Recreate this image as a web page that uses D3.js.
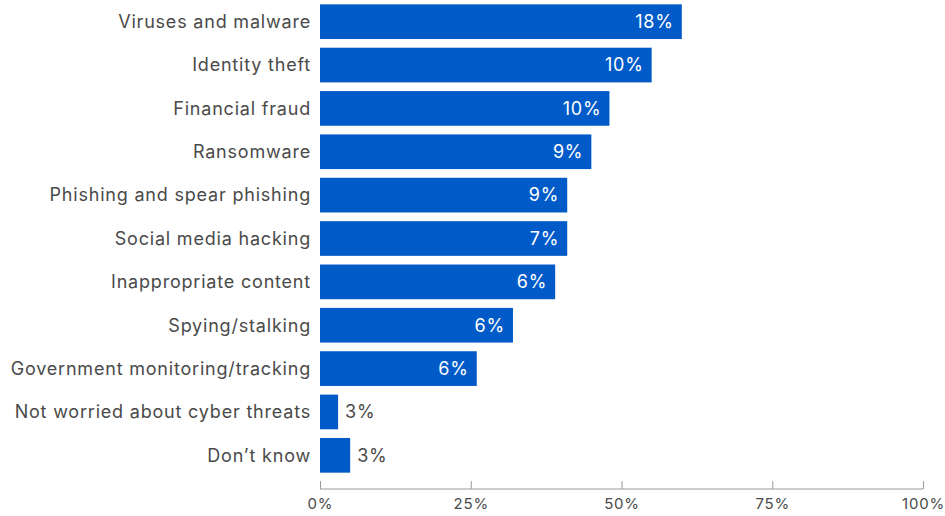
<!DOCTYPE html>
<html>
<head>
<meta charset="utf-8">
<script src="https://cdn.jsdelivr.net/npm/d3@7"></script>
<style>
  html, body { margin: 0; padding: 0; background: #fff; }
  svg { display: block; }
</style>
</head>
<body>
<svg id="chart" width="945" height="516"></svg>
<script>
// Cyber threat concerns: bar length = share mentioning the threat,
// label = share ranking it as their top concern.
const categories = [
  "Viruses and malware",
  "Identity theft",
  "Financial fraud",
  "Ransomware",
  "Phishing and spear phishing",
  "Social media hacking",
  "Inappropriate content",
  "Spying/stalking",
  "Government monitoring/tracking",
  "Not worried about cyber threats",
  "Don\u2019t know"
];
const mentionShare = [60, 55, 48, 45, 41, 41, 39, 32, 26, 3, 5];
const topConcernShare = [18, 10, 10, 9, 9, 7, 6, 6, 6, 3, 3];
const tickValues = [0, 25, 50, 75, 100];

const svg = d3.select("#chart");
const margin = { left: 320, right: 22, top: 0 };
const plotWidth = 945 - margin.left - margin.right;
const plotHeight = 477;
const axisY = 489;

const x = d3.scaleLinear().domain([0, 100]).range([0, plotWidth]);
const y = d3.scaleBand().domain(categories).range([0, plotHeight])
  .paddingInner(0.2).paddingOuter(0.1);

const g = svg.append("g").attr("transform", `translate(${margin.left},${margin.top})`);

const font = "Inter, Roboto, sans-serif";
const spacing = "0.8px";
const textColor = "#4a4a4a";
const barColor = "#005bc8";

const rows = categories.map((c, i) => ({ c, v: mentionShare[i], t: topConcernShare[i] }));

// bars
g.selectAll("rect.bar").data(rows).join("rect")
  .attr("class", "bar")
  .attr("x", 0)
  .attr("y", d => y(d.c))
  .attr("width", d => x(d.v))
  .attr("height", y.bandwidth())
  .attr("fill", barColor);

// category labels
g.selectAll("text.cat").data(rows).join("text")
  .attr("class", "cat")
  .attr("x", -9)
  .attr("y", d => y(d.c) + y.bandwidth() / 2)
  .attr("dy", "0.35em")
  .attr("text-anchor", "end")
  .attr("font-family", font)
  .attr("font-size", 18)
  .attr("letter-spacing", spacing)
  .attr("fill", textColor)
  .text(d => d.c);

// value labels: inside wide bars, outside narrow ones
const inside = d => x(d.v) > 40;
g.selectAll("text.val").data(rows).join("text")
  .attr("class", "val")
  .attr("x", d => inside(d) ? x(d.v) - 8 : x(d.v) + 7)
  .attr("y", d => y(d.c) + y.bandwidth() / 2)
  .attr("dy", "0.35em")
  .attr("text-anchor", d => inside(d) ? "end" : "start")
  .attr("font-family", font)
  .attr("font-size", 18)
  .attr("letter-spacing", spacing)
  .attr("fill", d => inside(d) ? "#ffffff" : textColor)
  .text(d => d.t + "%");

// x axis
const axis = d3.axisTop(x).tickValues(tickValues).tickSize(8).tickFormat(d => d + "%");
const ax = svg.append("g").attr("transform", `translate(${margin.left},${axisY})`).call(axis);
ax.select(".domain").attr("stroke", "#9a9a9a").attr("d", `M0,0H${plotWidth}`);
ax.selectAll(".tick line").attr("stroke", "#9a9a9a");
ax.selectAll(".tick text")
  .attr("y", 20)
  .attr("dy", 0)
  .attr("font-family", font)
  .attr("font-size", 15)
  .attr("letter-spacing", spacing)
  .attr("fill", textColor);
</script>
</body>
</html>
